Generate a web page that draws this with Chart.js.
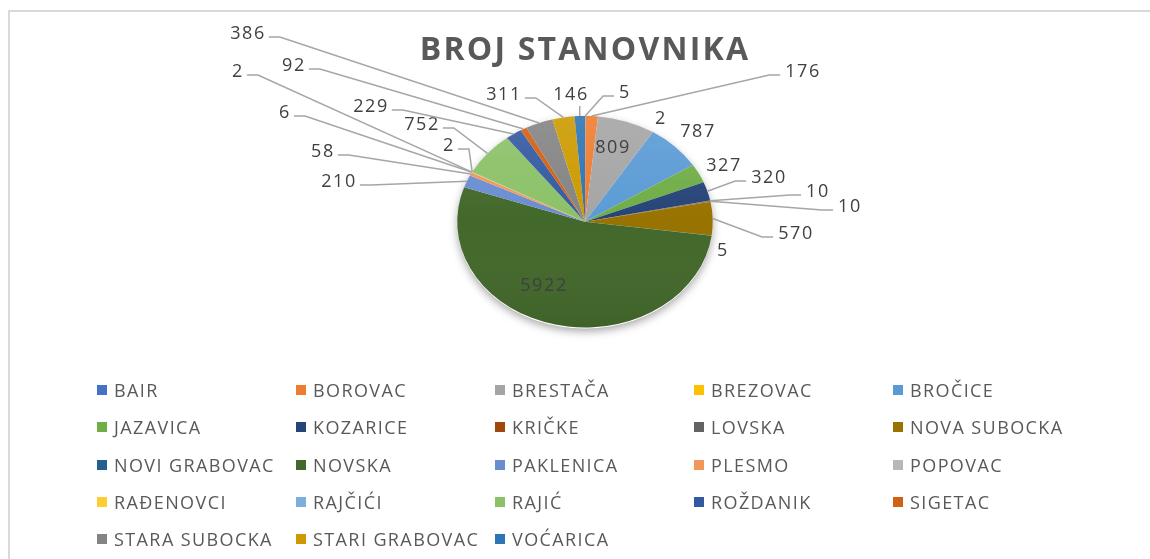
<!DOCTYPE html>
<html>
<head>
<meta charset="utf-8">
<script src="https://cdn.jsdelivr.net/npm/chart.js@4.4.0/dist/chart.umd.min.js"></script>
<style>
  html, body { margin: 0; padding: 0; background: #fff; overflow: hidden; }
  #wrap { position: relative; width: 1150px; height: 559px; }
  #frame { position: absolute; left: 8px; top: 10px; width: 1200px; height: 600px; border: 2px solid #d9d9d9; box-sizing: border-box; }
  #myChart { position: absolute; left: 0; top: 0; }
  #legend { position: absolute; left: 97px; top: 380px; display: grid; grid-template-columns: repeat(5, 199px); grid-auto-rows: 37.25px; font-family: "Open Sans"; font-size: 18px; letter-spacing: 1.4px; color: #595959; }
  .item { display: flex; align-items: center; white-space: nowrap; height: 20px; }
  .box { width: 10px; height: 10px; margin-right: 7px; flex: none; }
</style>
</head>
<body>
<div id="wrap">
  <div id="frame"></div>
  <canvas id="myChart" width="1150" height="559"></canvas>
  <div id="legend"></div>
</div>
<script>
const villages = ["BAIR", "BOROVAC", "BRESTAČA", "BREZOVAC", "BROČICE", "JAZAVICA", "KOZARICE", "KRIČKE", "LOVSKA", "NOVA SUBOCKA", "NOVI GRABOVAC", "NOVSKA", "PAKLENICA", "PLESMO", "POPOVAC", "RAĐENOVCI", "RAJČIĆI", "RAJIĆ", "ROŽDANIK", "SIGETAC", "STARA SUBOCKA", "STARI GRABOVAC", "VOĆARICA"];
const population = [5, 176, 809, 2, 787, 327, 320, 10, 10, 570, 5, 5922, 210, 58, 6, 2, 2, 752, 229, 92, 386, 311, 146];

const sliceColors = ["#4472C4", "#ED7D31", "#A5A5A5", "#FFC000", "#5B9BD5", "#70AD47", "#264478", "#9E480E", "#636363", "#997300", "#255E91", "#43682B", "#698ED0", "#F1975A", "#B7B7B7", "#FFCD33", "#7CAFDD", "#8CC168", "#335AA1", "#D26012", "#848484", "#CC9A00", "#2E75B6"];

// where each value label sits (text centre) and whether it gets a leader line
const labelSpots = [[624, 93], [802, 72], [612, 148], [660, 119], [697, 132], [723, 166], [768, 178], [817, 192], [849, 207], [795, 234], [722, 251], [543, 286], [338, 182], [322, 152], [284, 113], [237, 72], [448, 146], [421, 125], [370, 107], [293, 66], [247, 34], [503, 95], [570, 95]];
const hasLeader = [true, true, false, false, false, false, true, true, true, true, false, false, true, true, true, true, true, true, true, true, true, true, true];

const squish = 105.5 / 127.5; // pie is drawn tilted (ellipse)

const ellipsePie = {
  id: "ellipsePie",
  beforeDraw(chart) {
    // wider lettering for the title, like the original
    chart.ctx.letterSpacing = "2.2px";
  },
  beforeDatasetsDraw(chart) {
    const ctx = chart.ctx;
    ctx.letterSpacing = "0px";
    const arc = chart.getDatasetMeta(0).data[0];
    const p = arc.getProps(["x", "y", "outerRadius"], true);
    // soft shadow under the pie
    ctx.save();
    ctx.beginPath();
    ctx.ellipse(p.x, p.y + 1, p.outerRadius, p.outerRadius * squish, 0, 0, Math.PI * 2);
    ctx.shadowColor = "rgba(0,0,0,0.35)";
    ctx.shadowBlur = 9;
    ctx.shadowOffsetY = 3;
    ctx.fillStyle = "#fff";
    ctx.fill();
    ctx.restore();

    ctx.save();
    ctx.translate(p.x, p.y);
    ctx.scale(1, squish);
    ctx.translate(-p.x, -p.y);
  },
  afterDatasetsDraw(chart) {
    const ctx = chart.ctx;
    const meta = chart.getDatasetMeta(0);
    const p0 = meta.data[0].getProps(["x", "y", "outerRadius"], true);
    // light shading like the 3d look
    const g = ctx.createLinearGradient(0, p0.y - p0.outerRadius, 0, p0.y + p0.outerRadius);
    g.addColorStop(0, "rgba(255,255,255,0.10)");
    g.addColorStop(0.5, "rgba(255,255,255,0)");
    g.addColorStop(1, "rgba(0,0,0,0.06)");
    ctx.beginPath();
    ctx.arc(p0.x, p0.y, p0.outerRadius, 0, Math.PI * 2);
    ctx.fillStyle = g;
    ctx.fill();
    ctx.restore();

    // value labels
    ctx.save();
    ctx.font = '18px "Open Sans"';
    ctx.letterSpacing = "1.6px";
    ctx.textAlign = "center";
    ctx.textBaseline = "middle";
    ctx.strokeStyle = "#a6a6a6";
    ctx.lineWidth = 1.5;
    meta.data.forEach((arc, i) => {
      const p = arc.getProps(["x", "y", "startAngle", "endAngle", "outerRadius"], true);
      const mid = (p.startAngle + p.endAngle) / 2;
      const ax = p.x + Math.cos(mid) * p.outerRadius;
      const ay = p.y + Math.sin(mid) * p.outerRadius * squish;
      const [lx, ly] = labelSpots[i];
      const text = String(population[i]);
      const w = ctx.measureText(text).width;
      if (hasLeader[i]) {
        ctx.beginPath();
        if (Math.abs(ax - lx) < w / 2 + 12 && ay > ly) {
          ctx.moveTo(ax, ly + 11);
          ctx.lineTo(ax, ay);
        } else if (lx < ax) {
          const sx = lx + w / 2 + 4;
          ctx.moveTo(sx, ly + 3);
          ctx.lineTo(sx + 11, ly + 3);
          ctx.lineTo(ax, ay);
        } else {
          const sx = lx - w / 2 - 4;
          ctx.moveTo(sx, ly + 3);
          ctx.lineTo(sx - 11, ly + 3);
          ctx.lineTo(ax, ay);
        }
        ctx.stroke();
      }
      ctx.fillStyle = "#404040";
      ctx.fillText(text, lx + 1, ly);
    });
    ctx.restore();
  }
};

const ctx = document.getElementById("myChart").getContext("2d");
const myChart = new Chart(ctx, {
  type: "pie",
  data: {
    labels: villages,
    datasets: [{
      data: population,
      backgroundColor: sliceColors,
      borderWidth: 0,
      hoverOffset: 0,
      clip: false
    }]
  },
  options: {
    responsive: false,
    animation: false,
    events: [],
    layout: {
      padding: { left: 20, right: 0, top: 10, bottom: 209.5 }
    },
    plugins: {
      legend: { display: false },
      tooltip: { enabled: false },
      title: {
        display: true,
        text: "BROJ STANOVNIKA",
        color: "#595959",
        font: { family: "Open Sans", size: 32, weight: "bold" },
        padding: { top: 22, bottom: 23.5 }
      }
    }
  },
  plugins: [ellipsePie]
});

// legend in a 5 column grid like the original
const legend = document.getElementById("legend");
villages.forEach((name, i) => {
  const item = document.createElement("div");
  item.className = "item";
  const box = document.createElement("span");
  box.className = "box";
  box.style.background = sliceColors[i];
  const txt = document.createElement("span");
  txt.textContent = name;
  item.appendChild(box);
  item.appendChild(txt);
  legend.appendChild(item);
});
</script>
</body>
</html>
